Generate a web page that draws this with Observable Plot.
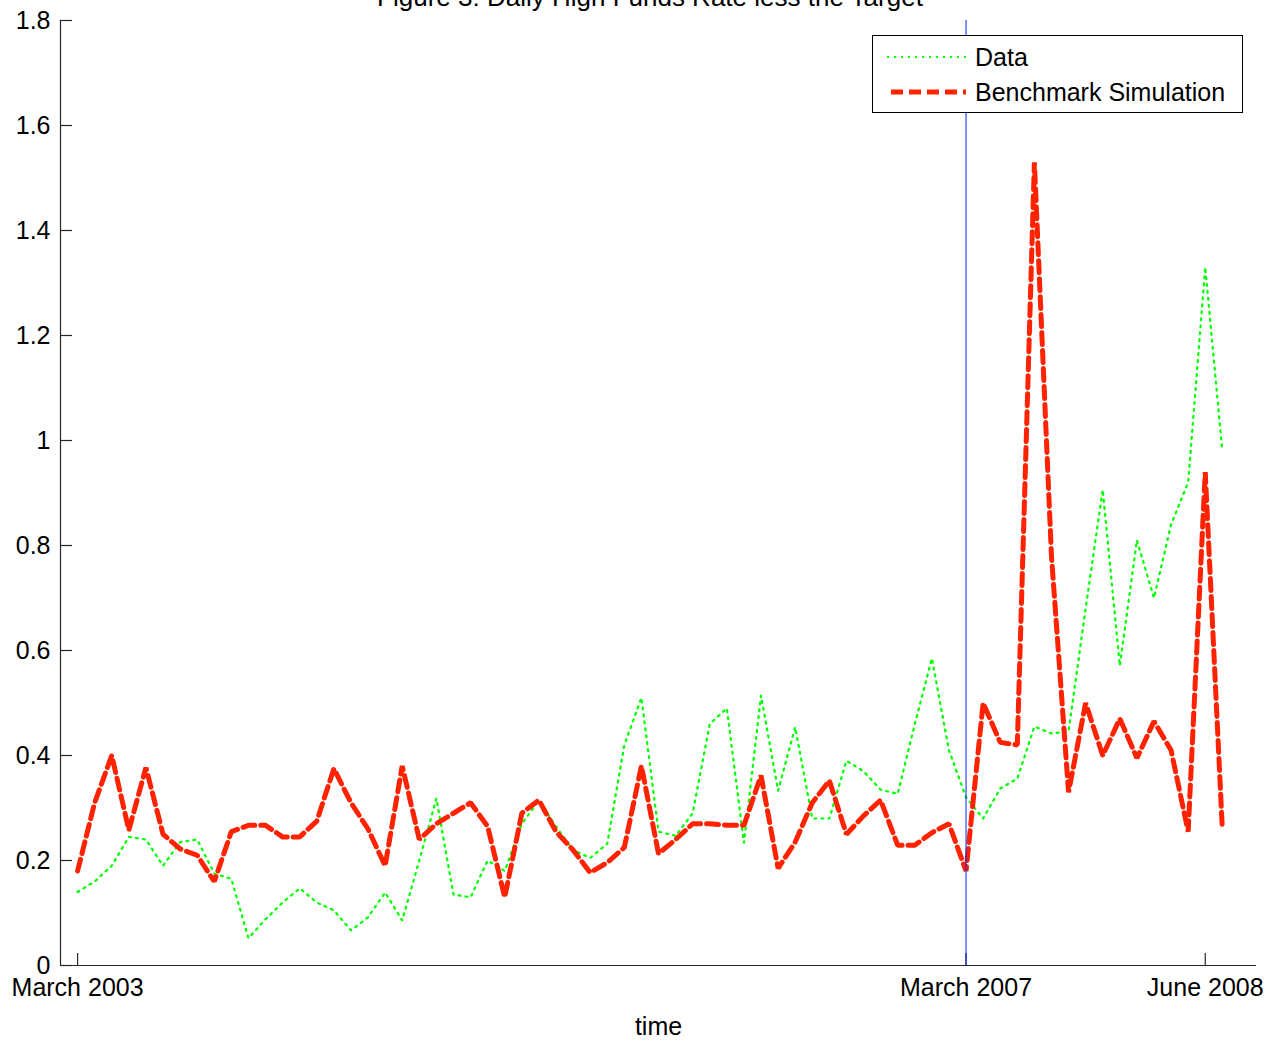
<!DOCTYPE html>
<html><head><meta charset="utf-8">
<script src="https://cdn.jsdelivr.net/npm/d3@7"></script>
<script src="https://cdn.jsdelivr.net/npm/@observablehq/plot@0.6"></script>
<style>
body{margin:0;background:#fff;font-family:"Liberation Sans",Arial,Helvetica,sans-serif;}
#wrap{position:relative;width:1286px;height:1045px;overflow:hidden;background:#fff;}
#chart{position:absolute;left:0;top:0;z-index:1;}
#title{position:absolute;top:-16px;left:0;width:1300px;text-align:center;font-size:26px;line-height:26px;color:#000;z-index:3;}
#legend{position:absolute;left:872px;top:35px;width:369px;height:76px;border:1px solid #000;background:#fff;z-index:2;}
.lrow{position:absolute;left:0;height:30px;width:369px;}
.lrow svg{position:absolute;left:12px;top:0;}
.lrow span{position:absolute;left:102px;top:1px;font-size:25px;line-height:28px;color:#000;}
</style></head><body>
<div id="wrap">
  <div id="chart"></div>
  <div id="legend"></div>
  <div id="title">Figure 3: Daily High Funds Rate less the Target</div>
</div>
<script>
// Series names
const seriesNames = ["Data", "Benchmark Simulation"];
// Observed data (green dotted)
const dataValues = [0.14,0.16,0.19,0.245,0.24,0.19,0.235,0.24,0.175,0.165,
  0.052,0.088,0.12,0.147,0.12,0.105,0.067,0.092,0.139,0.086,
  0.2,0.318,0.135,0.13,0.2,0.18,0.27,0.314,0.265,0.22,
  0.205,0.232,0.42,0.51,0.255,0.247,0.29,0.46,0.49,0.234,
  0.514,0.333,0.454,0.28,0.28,0.39,0.37,0.335,0.327,0.46,
  0.585,0.41,0.32,0.28,0.337,0.356,0.455,0.442,0.446,0.68,
  0.906,0.571,0.81,0.70,0.84,0.92,1.33,0.98];
// Benchmark simulation (red dashed)
const benchmarkValues = [0.18,0.31,0.40,0.258,0.377,0.25,0.222,0.21,0.16,0.255,
  0.267,0.267,0.245,0.245,0.275,0.375,0.31,0.26,0.19,0.38,
  0.24,0.27,0.29,0.31,0.265,0.13,0.29,0.315,0.255,0.22,
  0.177,0.196,0.225,0.38,0.213,0.24,0.27,0.27,0.267,0.267,
  0.362,0.185,0.235,0.31,0.352,0.25,0.285,0.315,0.229,0.229,
  0.253,0.27,0.18,0.50,0.425,0.42,1.53,0.78,0.33,0.50,
  0.40,0.47,0.395,0.465,0.41,0.255,0.94,0.26];
// x axis (observation index) ticks and labels
const xDomain = [-1, 69];
const xTickPositions = [0, 52, 66];
const xTickLabels = ["March 2003", "March 2007", "June 2008"];
const markerPosition = [52];
const xLabel = "time";
// y axis ticks
const yDomain = [0, 1.8];
const yTicks = [0, 0.2, 0.4, 0.6, 0.8, 1, 1.2, 1.4, 1.6, 1.8];

const colors = {data: "#00ff00", bench: "#ff2200", marker: "#0022ff", axis: "#262626"};

const W = 1286, H = 1045, mL = 60, mR = 30, mT = 20, mB = 80, tickLen = 12;

const dataRows = dataValues.map((v, i) => ({t: i, v}));
const benchRows = benchmarkValues.map((v, i) => ({t: i, v}));

const chart = Plot.plot({
  width: W, height: H,
  marginLeft: mL, marginRight: mR, marginTop: mT, marginBottom: mB,
  style: {fontFamily: "Liberation Sans, Arial, Helvetica, sans-serif", fontSize: "25px", background: "white", color: "black"},
  x: {domain: xDomain},
  y: {domain: yDomain},
  marks: [
    Plot.axisY(yTicks, {tickSize: 0, tickPadding: 10, tickFormat: d => String(+d.toFixed(1)), label: null}),
    Plot.axisX(xTickPositions, {tickSize: 0, tickPadding: 13, tickFormat: d => xTickLabels[xTickPositions.indexOf(d)], label: null}),
    Plot.tickY(yTicks, {stroke: colors.axis, strokeWidth: 1.2, insetRight: W - mL - mR - tickLen}),
    Plot.tickX(xTickPositions, {stroke: colors.axis, strokeWidth: 1.2, insetTop: H - mT - mB - tickLen}),
    Plot.ruleX([xDomain[0]], {stroke: colors.axis, strokeWidth: 1.2}),
    Plot.ruleY([yDomain[0]], {stroke: colors.axis, strokeWidth: 1.2}),
    Plot.line(dataRows, {x: "t", y: "v", stroke: colors.data, strokeWidth: 2.2, strokeDasharray: "2,5"}),
    Plot.line(benchRows, {x: "t", y: "v", stroke: colors.bench, strokeWidth: 5, strokeDasharray: "12,6", strokeLinejoin: "miter"}),
    Plot.ruleX(markerPosition, {stroke: colors.marker, strokeWidth: 1}),
    Plot.text([xLabel], {frameAnchor: "bottom", dy: 69, fill: "black", fontSize: 25})
  ]
});
document.getElementById("chart").appendChild(chart);

// legend
const legend = document.getElementById("legend");
const legendItems = [
  {name: seriesNames[0], color: colors.data, width: 2.2, dash: "2,5", top: 6},
  {name: seriesNames[1], color: colors.bench, width: 5, dash: "12,6", top: 41}
];
legendItems.forEach(it => {
  const row = document.createElement("div");
  row.className = "lrow";
  row.style.top = it.top + "px";
  row.innerHTML = `<svg width="82" height="30"><line x1="${it.dash === "2,5" ? 2 : 6}" x2="81" y1="15" y2="15" stroke="${it.color}" stroke-width="${it.width}" stroke-dasharray="${it.dash}"/></svg><span>${it.name}</span>`;
  legend.appendChild(row);
});
</script>
</body></html>
